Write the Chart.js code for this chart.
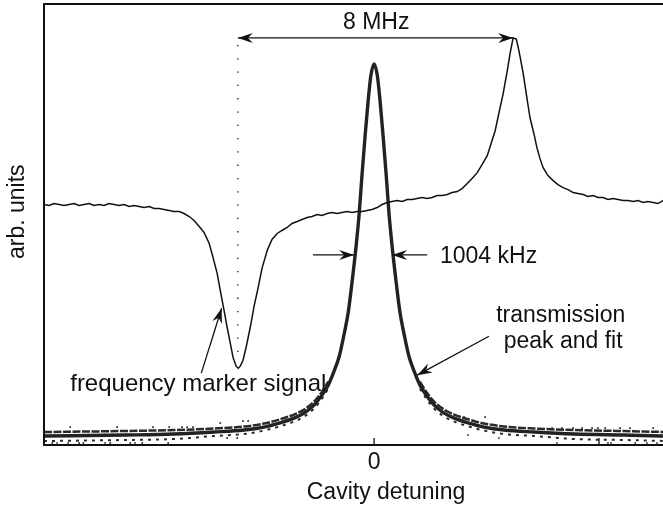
<!DOCTYPE html>
<html>
<head>
<meta charset="utf-8">
<script src="https://cdn.jsdelivr.net/npm/chart.js@4.4.0/dist/chart.umd.min.js"></script>
<style>
  html, body { margin: 0; padding: 0; background: #fff; overflow: hidden; }
  #wrap { position: relative; width: 740px; height: 509px; }
</style>
</head>
<body>
<div id="wrap"><canvas id="chart"></canvas></div>
<script>
// detuning in MHz, signal in arb. units (0 = bottom of the frame)
const markerX = [
  -9.57, -9.42, -9.28, -9.13, -8.99, -8.84, -8.70, -8.55, -8.41, -8.26, -8.12, -7.97, -7.83, -7.68, -7.54, -7.39, -7.25,
  -7.10, -6.96, -6.81, -6.67, -6.52, -6.38, -6.23, -6.09, -5.94, -5.80, -5.65, -5.51, -5.36, -5.22, -5.07, -4.93, -4.78,
  -4.67, -4.55, -4.46, -4.35, -4.26, -4.17, -4.09, -4.00, -3.94, -3.88, -3.80, -3.71, -3.59, -3.48, -3.36, -3.25, -3.10,
  -2.96, -2.81, -2.67, -2.52, -2.38, -2.23, -2.09, -1.94, -1.80, -1.65, -1.51, -1.36, -1.22, -1.07, -0.93, -0.78, -0.64,
  -0.49, -0.35, -0.20, -0.06, 0.09, 0.23, 0.38, 0.52, 0.67, 0.81, 0.96, 1.10, 1.25, 1.39, 1.54, 1.68, 1.83,
  1.97, 2.12, 2.26, 2.41, 2.55, 2.70, 2.84, 2.99, 3.13, 3.28, 3.39, 3.51, 3.62, 3.74, 3.86, 3.94, 4.03,
  4.12, 4.20, 4.32, 4.43, 4.52, 4.64, 4.72, 4.81, 4.90, 5.04, 5.19, 5.33, 5.48, 5.62, 5.77, 5.91, 6.06,
  6.20, 6.35, 6.49, 6.64, 6.78, 6.93, 7.07, 7.22, 7.36, 7.51, 7.65, 7.80, 7.94, 8.09, 8.23, 8.38, 8.52
];
const markerY = [
  241, 240, 242, 241, 240, 241, 242, 240, 241, 242, 240, 241, 240, 242, 241, 240, 241,
  239, 240, 239, 238, 239, 237, 237, 236, 235, 234, 234, 232, 229, 225, 219, 213, 202,
  188, 172, 155, 135, 118, 102, 88, 79, 77, 79, 85, 98, 118, 139, 158, 177, 195,
  206, 212, 215, 218, 222, 224, 226, 228, 229, 231, 230, 232, 233, 232, 233, 234, 233,
  234, 234, 235, 236, 238, 241, 243, 244, 245, 244, 246, 246, 247, 248, 247, 248, 250,
  250, 251, 253, 254, 257, 262, 267, 273, 281, 290, 302, 315, 333, 352, 375, 392, 408,
  407, 395, 373, 348, 328, 311, 298, 287, 278, 270, 265, 261, 258, 256, 253, 252, 251,
  249, 250, 248, 248, 246, 247, 246, 245, 245, 244, 245, 243, 244, 243, 242, 245, 244
];

// transmission peak (fit through the data)
const transX = [
  -9.57, -7.25, -5.80, -4.64, -3.77, -3.19, -2.75, -2.32, -2.03, -1.74, -1.51, -1.33, -1.16, -1.01, -0.87, -0.75,
  -0.64, -0.52, -0.43, -0.35, -0.26, -0.17, -0.09, 0, 0.09, 0.17, 0.26, 0.35, 0.43, 0.52, 0.64, 0.75,
  0.87, 1.01, 1.16, 1.33, 1.51, 1.74, 2.03, 2.32, 2.75, 3.19, 3.77, 4.64, 5.80, 7.25, 8.70, 10.26
];
const fitY = [
  9, 10, 11, 13, 15, 18, 22, 27, 32, 40, 50, 60, 74, 89, 111, 133,
  163, 200, 233, 271, 310, 346, 371, 382, 371, 346, 310, 271, 233, 200, 163, 133,
  111, 89, 74, 60, 50, 40, 32, 27, 22, 18, 15, 13, 11, 10, 9, 9
];

// upper / lower strands of the noisy data in the wings
const tailX = [
  -9.57, -7.25, -5.80, -4.64, -3.77, -3.19, -2.75, -2.32, -2.03, -1.74, -1.51, -1.33, 0,
  1.33, 1.51, 1.74, 2.03, 2.32, 2.75, 3.19, 3.77, 4.64, 5.80, 7.25, 8.70, 10.26
];
const bandHiY = [13, 14, 15, 16.5, 18.5, 21.5, 25.5, 30.5, 35.5, 43.5, 53.5, 63.5, null, 63.5, 53.5, 43.5, 35.5, 30.5, 25.5, 21.5, 18.5, 16.5, 15, 14, 13, 13];
const bandLoY = [4, 5, 6, 9, 11, 14.5, 18.5, 23.5, 28.5, 36.5, 46.5, 56.5, null, 56.5, 46.5, 36.5, 28.5, 23.5, 18.5, 14.5, 11, 9, 6, 5, 4, 4];

// stray samples above and below the band
const strayX = [
  -8.81, -7.45, -6.41, -5.94, -5.57, -5.42, -5.25, -4.46, -3.80, -3.65, 2.61, 3.22, 5.16, 5.45, 5.77, 6.03, 6.32, 6.49, 6.70, 7.13, 7.42, 8.09,
  -9.33, -9.19, -8.87, -8.55, -8.43, -7.80, -7.65, -7.07, -6.93, -6.72, -5.97, -4.26, -3.97, 2.72, 3.62, 5.30, 6.78, 6.87, 7.57, 7.91, 8.20
];
const strayY = [
  18, 18, 18, 18, 18, 18, 18, 22, 24, 24, 28, 28, 17, 17, 17, 17, 17, 17, 17, 17, 17, 17,
  2, 2, 2, 2, 2, 2, 2, 2, 2, 2, 2, 7, 7, 10, 7, 2, 2, 2, 2, 2, 2
];

const tickValues = [0, 6.52];
const tickLabels = ['0', ''];

const ink = '#111';
const labelFont = '23px "Liberation Sans", Arial, sans-serif';

// annotation placement, in data coordinates
const guide = { x: -3.95, top: 401, bottom: 90 };
const arrows = [
  { from: [-3.95, 408], to: [4.03, 408], both: true },
  { from: [-1.77, 190.5], to: [-0.58, 190.5] },
  { from: [1.54, 190.5], to: [0.52, 190.5] },
  { from: [3.33, 109], to: [1.25, 70] },
  { from: [-5.01, 72], to: [-4.42, 137] }
];
const notes = [
  { text: '8 MHz', at: [0.06, 416.7], align: 'center', size: 23 },
  { text: '1004 kHz', at: [1.91, 182], align: 'left', size: 23 },
  { text: 'transmission', at: [5.41, 123], align: 'center', size: 23 },
  { text: 'peak and fit', at: [5.48, 97], align: 'center', size: 23 },
  { text: 'frequency marker signal', at: [-8.81, 54], align: 'left', size: 24 }
];

const toPoints = (xs, ys) => xs.map((x, i) => ({ x, y: ys[i] }));

function arrowHead(ctx, fx, fy, tx, ty) {
  ctx.save();
  ctx.translate(tx, ty);
  ctx.rotate(Math.atan2(ty - fy, tx - fx));
  ctx.beginPath();
  ctx.moveTo(0, 0);
  ctx.lineTo(-15, -5);
  ctx.lineTo(-10, 0);
  ctx.lineTo(-15, 5);
  ctx.closePath();
  ctx.fill();
  ctx.restore();
}

const annotate = {
  id: 'annotate',
  afterDatasetsDraw(chart) {
    const { ctx, scales: { x, y } } = chart;
    ctx.save();
    ctx.strokeStyle = ink;
    ctx.fillStyle = ink;

    ctx.lineWidth = 1.3;
    ctx.setLineDash([1.3, 12]);
    ctx.beginPath();
    ctx.moveTo(x.getPixelForValue(guide.x), y.getPixelForValue(guide.top));
    ctx.lineTo(x.getPixelForValue(guide.x), y.getPixelForValue(guide.bottom));
    ctx.stroke();
    ctx.setLineDash([]);

    arrows.forEach(a => {
      const fx = x.getPixelForValue(a.from[0]), fy = y.getPixelForValue(a.from[1]);
      const tx = x.getPixelForValue(a.to[0]), ty = y.getPixelForValue(a.to[1]);
      ctx.lineWidth = 1.3;
      ctx.beginPath();
      ctx.moveTo(fx, fy);
      ctx.lineTo(tx, ty);
      ctx.stroke();
      arrowHead(ctx, fx, fy, tx, ty);
      if (a.both) arrowHead(ctx, tx, ty, fx, fy);
    });

    ctx.textBaseline = 'alphabetic';
    notes.forEach(n => {
      ctx.font = labelFont.replace('23px', n.size + 'px');
      ctx.textAlign = n.align;
      ctx.fillText(n.text, x.getPixelForValue(n.at[0]), y.getPixelForValue(n.at[1]));
    });
    ctx.restore();
  },
  afterDraw(chart) {
    const { ctx, chartArea: { left, top, right, bottom }, scales: { x } } = chart;
    ctx.save();
    ctx.strokeStyle = ink;
    ctx.lineWidth = 2;
    ctx.strokeRect(left, top, right - left, bottom - top);
    ctx.lineWidth = 1.3;
    x.ticks.forEach(t => {
      const px = x.getPixelForValue(t.value);
      ctx.beginPath();
      ctx.moveTo(px, bottom);
      ctx.lineTo(px, bottom - 7);
      ctx.stroke();
    });
    ctx.restore();
  }
};

Chart.defaults.font.family = '"Liberation Sans", Arial, sans-serif';
Chart.defaults.color = ink;

new Chart(document.getElementById('chart'), {
  type: 'line',
  data: {
    datasets: [
      {
        label: 'frequency marker signal',
        data: toPoints(markerX, markerY),
        borderColor: ink, borderWidth: 1.5, pointRadius: 0
      },
      {
        label: 'fit',
        data: toPoints(transX, fitY),
        borderColor: '#222', borderWidth: 3.4, pointRadius: 0,
        cubicInterpolationMode: 'monotone', borderJoinStyle: 'round'
      },
      {
        label: 'data upper',
        data: toPoints(tailX, bandHiY),
        borderColor: '#2a2a2a', borderWidth: 2.5, borderDash: [8, 1.5], pointRadius: 0,
        cubicInterpolationMode: 'monotone', spanGaps: false
      },
      {
        label: 'data lower',
        data: toPoints(tailX, bandLoY),
        borderColor: '#2a2a2a', borderWidth: 2, borderDash: [3, 5], pointRadius: 0,
        cubicInterpolationMode: 'monotone', spanGaps: false
      },
      {
        label: 'stray samples',
        data: toPoints(strayX, strayY),
        showLine: false, pointStyle: 'rect', pointRadius: 1.2,
        backgroundColor: '#2a2a2a', borderWidth: 0
      }
    ]
  },
  options: {
    responsive: true,
    maintainAspectRatio: false,
    animation: false,
    events: [],
    layout: { padding: { top: 3, left: 0, right: 12, bottom: 0 } },
    plugins: { legend: { display: false }, tooltip: { enabled: false } },
    scales: {
      x: {
        type: 'linear', min: -9.57, max: 10.26,
        afterBuildTicks: s => { s.ticks = tickValues.map(v => ({ value: v })); },
        ticks: {
          callback: (v, i) => tickLabels[i],
          font: { size: 23, lineHeight: 1 }, padding: 6, maxRotation: 0, autoSkip: false
        },
        grid: { display: false, drawTicks: false },
        border: { display: false },
        title: {
          display: true, text: 'Cavity detuning',
          font: { size: 23, lineHeight: 1 }, padding: { top: 1.5, bottom: 4.5 }
        }
      },
      y: {
        type: 'linear', min: 0, max: 442,
        ticks: { display: false },
        grid: { display: false, drawTicks: false },
        border: { display: false },
        title: {
          display: true, text: '    arb. units',
          font: { size: 23 }, padding: { top: 4.2, bottom: 12.2 }
        }
      }
    }
  },
  plugins: [annotate]
});
</script>
</body>
</html>
